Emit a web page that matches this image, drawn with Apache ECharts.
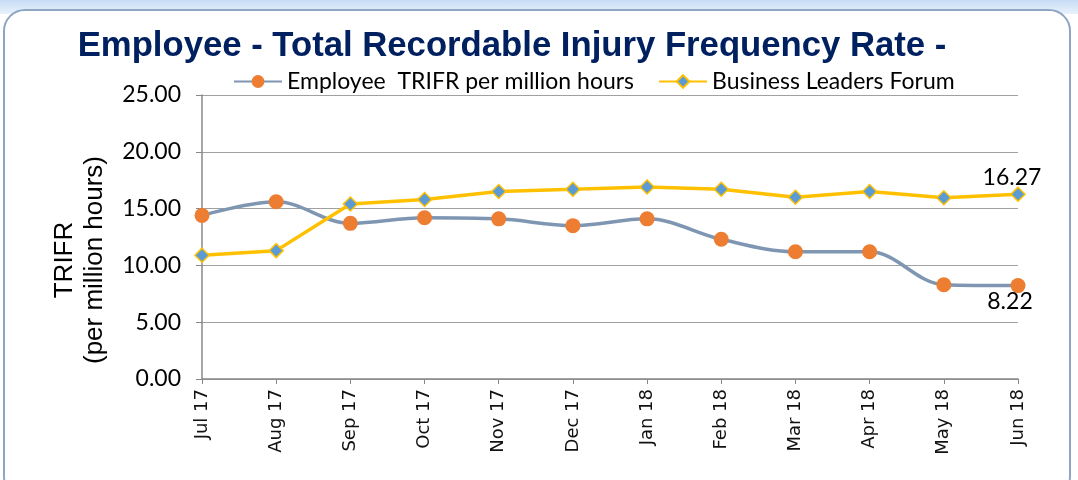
<!DOCTYPE html>
<html><head><meta charset="utf-8">
<script src="https://cdn.jsdelivr.net/npm/echarts@6/dist/echarts.min.js"></script>
<style>
html,body{margin:0;padding:0;width:1078px;height:480px;overflow:hidden;background:#fff;}
#glow{position:absolute;left:0;top:0;width:1078px;height:14px;background:linear-gradient(#c6dcf5,#eaf2fc);}
#frame{position:absolute;left:3px;top:9px;width:1068px;height:490px;border:2px solid #8ea6c4;border-radius:22px;background:#fff;box-sizing:border-box;}
#chart{position:absolute;left:0;top:0;width:1078px;height:480px;}
</style></head>
<body>
<div id="glow"></div>
<div id="frame"></div>
<div id="chart"></div>
<script>
const categories = ['Jul 17','Aug 17','Sep 17','Oct 17','Nov 17','Dec 17','Jan 18','Feb 18','Mar 18','Apr 18','May 18','Jun 18'];
const employeeTRIFR = [14.4, 15.6, 13.7, 14.2, 14.1, 13.5, 14.1, 12.3, 11.2, 11.2, 8.3, 8.22];
const businessLeadersForum = [10.9, 11.3, 15.4, 15.8, 16.5, 16.7, 16.9, 16.7, 16.0, 16.5, 15.95, 16.27];
const yTicks = [0, 5, 10, 15, 20, 25];

const chart = echarts.init(document.getElementById('chart'), null, {renderer:'canvas'});
const lastIdx = categories.length - 1;
chart.setOption({
  backgroundColor: 'transparent',
  animation: false,
  title: {
    text: 'Employee - Total Recordable Injury Frequency Rate -',
    left: 507, top: 24, textAlign: 'center',
    textStyle: {fontFamily: 'Liberation Sans', fontWeight: 'bold', fontSize: 34.7, color: '#002060'}
  },
  legend: {
    top: 65, left: 228, itemGap: 24, itemWidth: 48, itemHeight: 16,
    textStyle: {fontFamily: 'Lato', fontSize: 23, color: '#000'},
    data: ['Employee  TRIFR per million hours', 'Business Leaders Forum']
  },
  grid: {left: 202, right: 60, top: 95, bottom: 101},
  xAxis: {
    type: 'category', data: categories, boundaryGap: false,
    axisLine: {lineStyle: {color: '#888', width: 1.5}},
    axisTick: {show: true, length: 5, lineStyle: {color: '#888'}},
    axisLabel: {rotate: 90, margin: 10, fontFamily: 'DejaVu Sans', fontSize: 18, color: '#111'}
  },
  yAxis: {
    type: 'value', min: yTicks[0], max: yTicks[yTicks.length-1], interval: 5,
    name: 'TRIFR\n(per million hours)', nameLocation: 'middle', nameGap: 92, nameRotate: 90,
    nameTextStyle: {fontFamily: 'Liberation Sans', fontSize: 26, color: '#000', lineHeight: 30, padding: [0, 46, 0, 0]},
    axisLine: {show: true, lineStyle: {color: '#888', width: 1.5}},
    axisTick: {show: true, length: 6, lineStyle: {color: '#888'}},
    splitLine: {lineStyle: {color: '#a0a0a0', width: 1}},
    axisLabel: {formatter: v => v.toFixed(2), fontFamily: 'Lato', fontSize: 23, color: '#000', margin: 21}
  },
  series: [
    {
      name: 'Employee  TRIFR per million hours', type: 'line', smooth: 0.35,
      data: employeeTRIFR.map((v, i) => i === lastIdx ? {value: v, label: {show: true, position: 'bottom', distance: 0, offset: [-8, -3], formatter: p => p.value.toFixed(2)}} : v),
      lineStyle: {color: '#7f96b2', width: 3.5},
      itemStyle: {color: '#ed7d31', borderWidth: 0},
      symbol: 'circle', symbolSize: 15,
      label: {show: false, fontFamily: 'Lato', fontSize: 23, color: '#000'},
      z: 2
    },
    {
      name: 'Business Leaders Forum', type: 'line', smooth: false,
      data: businessLeadersForum.map((v, i) => i === lastIdx ? {value: v, label: {show: true, position: 'top', distance: 0, offset: [-6, 3], formatter: p => p.value.toFixed(2)}} : v),
      lineStyle: {color: '#ffc000', width: 3.5},
      itemStyle: {color: '#5b9bd5', borderColor: '#ffc000', borderWidth: 1.5},
      symbol: 'diamond', symbolSize: 14,
      label: {show: false, fontFamily: 'Lato', fontSize: 23, color: '#000'},
      z: 3
    }
  ]
});
</script>
</body></html>
